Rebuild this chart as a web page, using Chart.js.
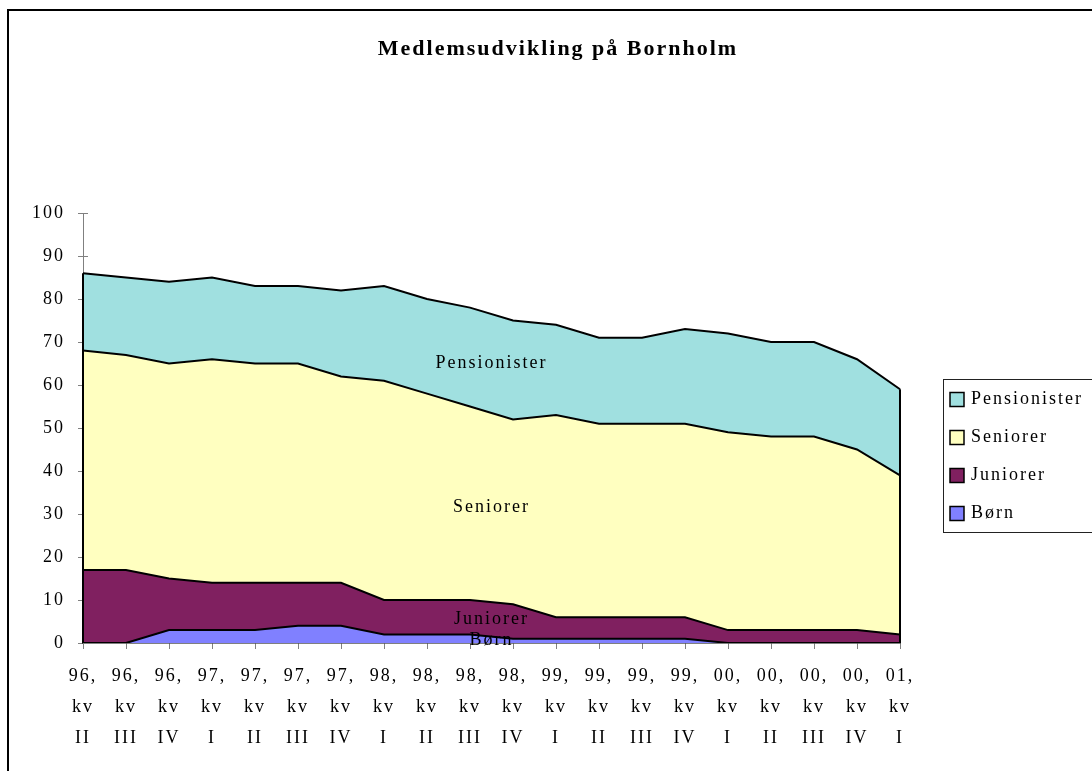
<!DOCTYPE html>
<html>
<head>
<meta charset="utf-8">
<script src="https://cdn.jsdelivr.net/npm/chart.js@4/dist/chart.umd.min.js"></script>
<style>
  html, body { margin: 0; padding: 0; background: #fff; }
</style>
</head>
<body>
<canvas id="chart" width="1092" height="771"></canvas>
<script>
const chartTitle = 'Medlemsudvikling på Bornholm';
const quarterLabels = [
  ['96,', 'kv', 'II'], ['96,', 'kv', 'III'], ['96,', 'kv', 'IV'],
  ['97,', 'kv', 'I'], ['97,', 'kv', 'II'], ['97,', 'kv', 'III'], ['97,', 'kv', 'IV'],
  ['98,', 'kv', 'I'], ['98,', 'kv', 'II'], ['98,', 'kv', 'III'], ['98,', 'kv', 'IV'],
  ['99,', 'kv', 'I'], ['99,', 'kv', 'II'], ['99,', 'kv', 'III'], ['99,', 'kv', 'IV'],
  ['00,', 'kv', 'I'], ['00,', 'kv', 'II'], ['00,', 'kv', 'III'], ['00,', 'kv', 'IV'],
  ['01,', 'kv', 'I']
];
const boern        = [0, 0, 3, 3, 3, 4, 4, 2, 2, 2, 1, 1, 1, 1, 1, 0, 0, 0, 0, 0];
const juniorer     = [17, 17, 12, 11, 11, 10, 10, 8, 8, 8, 8, 5, 5, 5, 5, 3, 3, 3, 3, 2];
const seniorer     = [51, 50, 50, 52, 51, 51, 48, 51, 48, 45, 43, 47, 45, 45, 45, 46, 45, 45, 42, 37];
const pensionister = [18, 18, 19, 19, 18, 18, 20, 22, 22, 23, 23, 21, 20, 20, 22, 23, 22, 22, 21, 20];
const yMin = 0, yMax = 100, yStep = 10;

const serif = '"Liberation Serif", "Times New Roman", serif';
Chart.defaults.font.family = serif;
Chart.defaults.font.size = 18;
Chart.defaults.color = '#000';

// letter spacing like the old office renderer
const spacing = {
  id: 'spacing',
  beforeDraw(chart) { chart.ctx.letterSpacing = '2px'; }
};

// frame, title and legend box
const decorations = {
  id: 'decorations',
  beforeDraw(chart) {
    const ctx = chart.ctx;
    ctx.save();
    ctx.strokeStyle = '#000';
    ctx.lineWidth = 2;
    ctx.strokeRect(8, 10, 1200, 1000);
    ctx.restore();
  },
  afterDraw(chart) {
    const ctx = chart.ctx;
    ctx.save();
    ctx.fillStyle = '#000';
    ctx.font = 'bold 22px ' + serif;
    ctx.letterSpacing = '2px';
    ctx.textAlign = 'center';
    ctx.textBaseline = 'alphabetic';
    ctx.fillText(chartTitle, 558, 55);

    // legend
    ctx.strokeStyle = '#222';
    ctx.lineWidth = 1;
    ctx.strokeRect(943.5, 379.5, 200, 153);
    ctx.font = '18px ' + serif;
    ctx.letterSpacing = '2px';
    ctx.textAlign = 'left';
    const sets = chart.data.datasets.slice().reverse();
    sets.forEach((ds, i) => {
      const cy = 399.5 + i * 38;
      ctx.fillStyle = ds.backgroundColor;
      ctx.fillRect(950, cy - 7, 14, 14);
      ctx.lineWidth = 1.5;
      ctx.strokeStyle = '#000';
      ctx.strokeRect(950, cy - 7, 14, 14);
      ctx.fillStyle = '#000';
      ctx.fillText(ds.label, 971, cy + 4);
    });
    ctx.restore();
  }
};

// ticks that cross the axes
const innerTicks = {
  id: 'innerTicks',
  beforeDatasetsDraw(chart) {
    const ctx = chart.ctx, x = chart.scales.x, y = chart.scales.y;
    ctx.save();
    ctx.strokeStyle = '#808080';
    ctx.lineWidth = 1;
    ctx.beginPath();
    y.ticks.forEach((t, i) => {
      const py = Math.round(y.getPixelForTick(i)) + 0.5;
      ctx.moveTo(x.left, py); ctx.lineTo(x.left + 5, py);
    });
    x.ticks.forEach((t, i) => {
      const px = Math.round(x.getPixelForTick(i)) + 0.5;
      ctx.moveTo(px, y.bottom); ctx.lineTo(px, y.bottom - 4);
    });
    ctx.stroke();
    ctx.restore();
  }
};

// closing edges of the areas and labels inside the bands
const bandLabels = {
  id: 'bandLabels',
  afterDatasetsDraw(chart) {
    const ctx = chart.ctx, x = chart.scales.x, y = chart.scales.y;
    const sets = chart.data.datasets;
    const n = quarterLabels.length;
    const total = i => sets.reduce((s, ds) => s + ds.data[i], 0);
    ctx.save();
    ctx.strokeStyle = '#000';
    ctx.lineWidth = 2;
    ctx.beginPath();
    [0, n - 1].forEach(i => {
      const px = x.getPixelForValue(i);
      ctx.moveTo(px, y.getPixelForValue(0));
      ctx.lineTo(px, y.getPixelForValue(total(i)));
    });
    ctx.stroke();

    const mid = (n - 1) / 2;
    const i0 = Math.floor(mid), i1 = Math.ceil(mid);
    ctx.font = '18px ' + serif;
    ctx.letterSpacing = '2px';
    ctx.textAlign = 'center';
    ctx.textBaseline = 'middle';
    ctx.fillStyle = '#000';
    sets.forEach((ds, k) => {
      const centre = i => {
        let base = 0;
        for (let j = 0; j < k; j++) base += sets[j].data[i];
        return base + ds.data[i] / 2;
      };
      const v = (centre(i0) + centre(i1)) / 2;
      ctx.fillText(ds.label, x.getPixelForValue(mid), y.getPixelForValue(v));
    });
    ctx.restore();
  }
};

function area(label, data, color, fill) {
  return {
    label, data, fill,
    backgroundColor: color,
    borderColor: '#000',
    borderWidth: 2,
    pointRadius: 0,
    tension: 0
  };
}

new Chart(document.getElementById('chart'), {
  type: 'line',
  data: {
    labels: quarterLabels,
    datasets: [
      area('Børn', boern, '#8080FF', 'origin'),
      area('Juniorer', juniorer, '#802060', '-1'),
      area('Seniorer', seniorer, '#FFFFC0', '-1'),
      area('Pensionister', pensionister, '#A0E0E0', '-1')
    ]
  },
  options: {
    responsive: false,
    animation: false,
    devicePixelRatio: 1,
    layout: { padding: { top: 213, right: 192, left: 0, bottom: 0 } },
    plugins: {
      legend: { display: false },
      title: { display: false },
      tooltip: { enabled: false }
    },
    scales: {
      x: {
        offset: false,
        border: { color: '#000', width: 1.5 },
        grid: { drawOnChartArea: false, tickLength: 6, color: '#808080' },
        ticks: { autoSkip: false, maxRotation: 0, padding: 12, font: { size: 18, lineHeight: 1.72 } },
        afterFit(scale) { scale.height = 128; }
      },
      y: {
        stacked: true,
        min: yMin, max: yMax,
        border: { color: '#808080', width: 1 },
        grid: { drawOnChartArea: false, tickLength: 5, color: '#808080' },
        ticks: { stepSize: yStep, padding: 13, font: { size: 18 } },
        afterFit(scale) { scale.width = 83; }
      }
    }
  },
  plugins: [spacing, innerTicks, bandLabels, decorations]
});
</script>
</body>
</html>
